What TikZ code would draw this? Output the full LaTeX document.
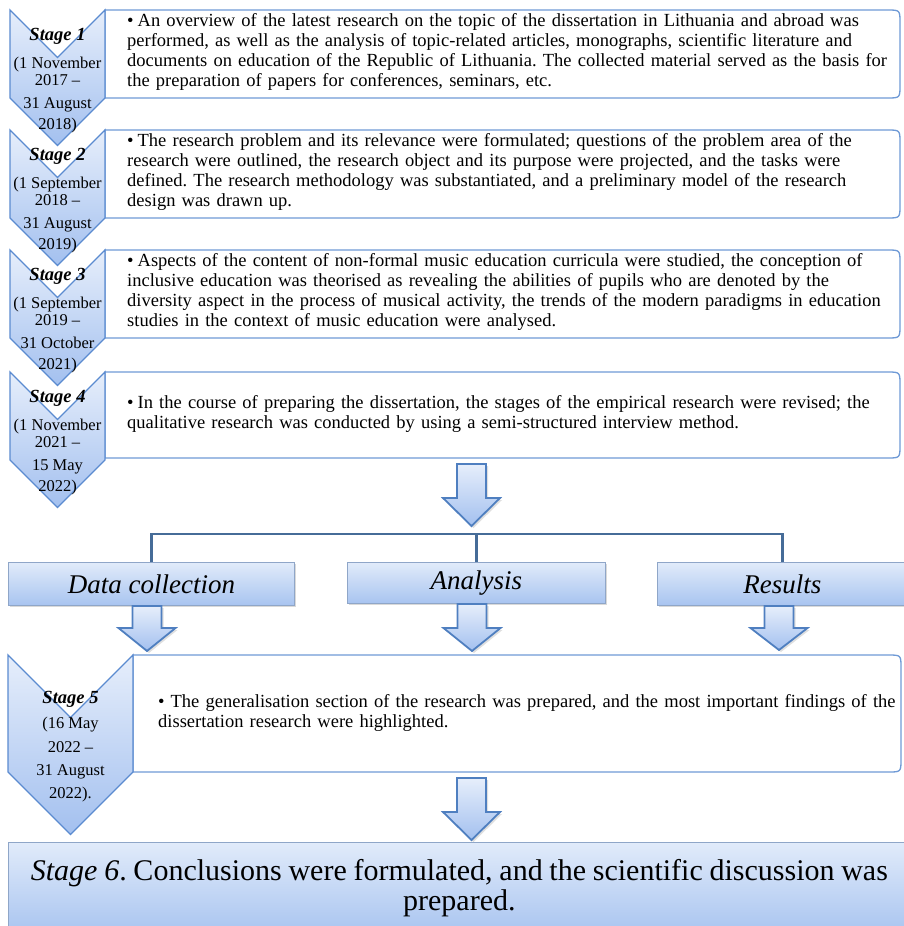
\documentclass[tikz,border=0pt]{standalone}
\usepackage{fontspec}
\setmainfont{Liberation Serif}
\usetikzlibrary{shadows}
\definecolor{chevB}{HTML}{5B8BD0}
\definecolor{chevT}{HTML}{E6EEFB}
\definecolor{chevBot}{HTML}{A3C0EF}
\definecolor{boxB}{HTML}{6F9AD6}
\definecolor{arrB}{HTML}{4F7FC0}
\definecolor{brkC}{HTML}{466C98}
\definecolor{pB}{HTML}{8FA6C8}
\definecolor{pT}{HTML}{E1EBFA}
\definecolor{pBot}{HTML}{A8C4F0}
\hyphenpenalty=10000
\exhyphenpenalty=10000
\frenchspacing
\tikzset{
  chev/.style={draw=chevB, line width=1.3pt, line join=miter, top color=chevT, bottom color=chevBot},
  tb/.style={draw=boxB, line width=1.3pt, fill=white},
  arr/.style={draw=arrB, line width=1.8pt, line join=miter, top color=chevT, bottom color=chevBot,
    drop shadow={shadow xshift=2pt, shadow yshift=-2pt, opacity=0.25}},
  pbox/.style={draw=pB, line width=0.8pt, top color=pT, bottom color=pBot, inner sep=0pt,
    drop shadow={shadow xshift=1.5pt, shadow yshift=-1.5pt, opacity=0.3},
    font=\fontsize{27}{30}\selectfont\itshape},
  sixbox/.style={draw=pB, line width=0.8pt, top color=pT, bottom color=pBot, inner sep=0pt,
    align=center, font=\fontsize{30}{30}\selectfont},
  body/.style={inner sep=0pt, align=left, font=\fontsize{18.5}{20}\selectfont},
  stg/.style={inner sep=0pt, anchor=base, font=\fontsize{18.5}{20}\selectfont\bfseries\itshape},
  dt/.style={inner sep=0pt, anchor=base, font=\fontsize{16.5}{18}\selectfont},
  brk/.style={draw=brkC, line width=2.4pt},
}
\newcommand\chevron[4]{%
  \pgfmathsetmacro\chcx{(#1+#2)/2}%
  \pgfmathsetmacro\chhw{(#2-#1)/2}%
  \path[chev] (#1,#3) -- (\chcx,{#3+\chhw}) -- (#2,#3) -- (#2,{#3+#4}) -- (\chcx,{#3+#4+\chhw}) -- (#1,{#3+#4}) -- cycle;}
\newcommand\tbox[4]{%
  \draw[tb] (#1,#4) -- (#1,#3) -- ({#2-13},#3) .. controls (#2,#3) .. (#2,{#3+13}) -- (#2,{#4-13}) .. controls (#2,#4) .. ({#2-13},#4) -- cycle;}
\newcommand\barrow[4]{%
  \path[arr] ({#1-14.5},#2) -- ({#1+14.5},#2) -- ({#1+14.5},#3) -- ({#1+28.5},#3) -- (#1,#4) -- ({#1-28.5},#3) -- ({#1-14.5},#3) -- cycle;}
\begin{document}
\begin{tikzpicture}[x=1pt,y=-1pt]
\useasboundingbox (0,0) rectangle (903,926);

% stage boxes 1-4
\tbox{105}{900}{10}{98}
\tbox{105}{900}{130}{218}
\tbox{105}{900}{250}{338}
\tbox{105}{900}{372}{458}

\foreach \n/\t/\a/\b/\c/\d in {1/10/{(1 November}/{2017 –}/{31 August}/{2018)},
  2/130/{(1 September}/{2018 –}/{31 August}/{2019)},
  3/250/{(1 September}/{2019 –}/{31 October}/{2021)},
  4/372/{(1 November}/{2021 –}/{15 May}/{2022)}}{
  \chevron{10}{105}{\t}{88}
  \node[stg] (st\n) at (57.5,{\t+30}) {Stage \n};
  \node[dt] (da\n) at (57.5,{\t+58}) {\a};
  \node[dt] (db\n) at (57.5,{\t+75}) {\b};
  \node[dt] (dc\n) at (57.5,{\t+98}) {\c};
  \node[dt] (dd\n) at (57.5,{\t+119}) {\d};
}

\node[body, text width=772pt, anchor=west] (t1) at (127,52) {•\hspace{4pt}An overview of the latest research on the topic of the dissertation in Lithuania and abroad was\\performed, as well as the analysis of topic-related articles, monographs, scientific literature and\\documents on education of the Republic of Lithuania. The collected material served as the basis for\\the preparation of papers for conferences, seminars, etc.};
\node[body, text width=772pt, anchor=west] (t2) at (127,172) {•\hspace{4pt}The research problem and its relevance were formulated; questions of the problem area of the\\research were outlined, the research object and its purpose were projected, and the tasks were\\defined. The research methodology was substantiated, and a preliminary model of the research\\design was drawn up.};
\node[body, text width=772pt, anchor=west] (t3) at (127,292) {•\hspace{4pt}Aspects of the content of non-formal music education curricula were studied, the conception of\\inclusive education was theorised as revealing the abilities of pupils who are denoted by the\\diversity aspect in the process of musical activity, the trends of the modern paradigms in education\\studies in the context of music education were analysed.};
\node[body, text width=772pt, anchor=west] (t4) at (127,414) {•\hspace{4pt}In the course of preparing the dissertation, the stages of the empirical research were revised; the\\qualitative research was conducted by using a semi-structured interview method.};

% arrow to the three steps
\barrow{471.5}{464}{498}{526}

% three steps
\node[pbox, anchor=north west, minimum width=286pt, minimum height=43pt] (dcol) at (8,562) {Data collection};
\node[pbox, anchor=north west, minimum width=258pt, minimum height=41pt] (anl) at (347,562) {Analysis};
\node[pbox, anchor=north west, minimum width=250pt, minimum height=43pt] (res) at (657,562) {Results};
\coordinate (jn) at (476,534);
\draw[brk] (dcol.north) |- (jn) -| (res.north);
\draw[brk] (anl.north) -- (anl.north |- jn);

\barrow{147}{606}{628}{651}
\barrow{472}{604}{628}{651}
\barrow{779}{606}{628}{650}

% stage 5
\tbox{133}{901}{655}{772}
\chevron{8}{133}{655}{117}
\node[stg] (st5) at (70.5,703) {Stage 5};
\node[dt] (da5) at (70.5,728) {(16 May};
\node[dt] (db5) at (70.5,752) {2022 –};
\node[dt] (dc5) at (70.5,775) {31 August};
\node[dt] (dd5) at (70.5,798) {2022).};
\node[body, text width=742pt, anchor=west] (t5) at (158,713) {•\hspace{6pt}The generalisation section of the research was prepared, and the most important findings of the\\dissertation research were highlighted.};

\barrow{471.5}{778}{812}{840}

% stage 6
\node[sixbox, anchor=north west, minimum width=902pt, minimum height=92pt] (s6) at (8,842) {\makebox[857pt][s]{\textit{Stage 6}. Conclusions were formulated, and the scientific discussion was}\\prepared.};
\end{tikzpicture}
\end{document}
